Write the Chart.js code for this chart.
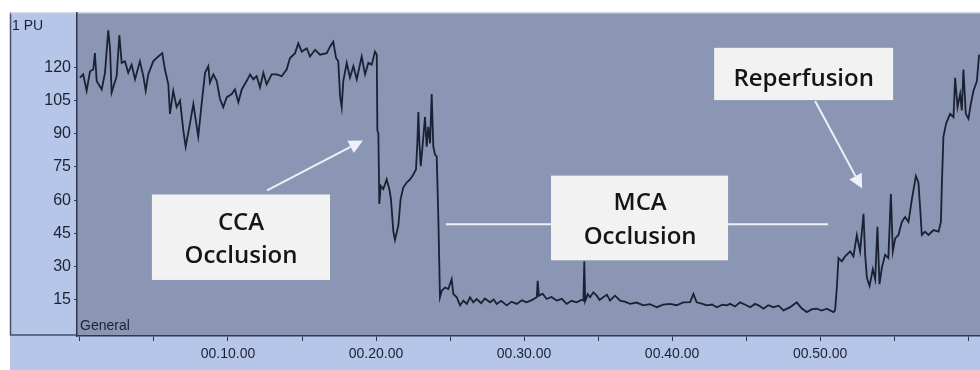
<!DOCTYPE html>
<html>
<head>
<meta charset="utf-8">
<script src="https://cdn.jsdelivr.net/npm/chart.js@4.4.1/dist/chart.umd.min.js"></script>
<style>
  html, body { margin: 0; padding: 0; background: #fff; }
  #wrap { width: 980px; height: 370px; }
</style>
</head>
<body>
<div id="wrap"><canvas id="chart" width="980" height="370"></canvas></div>
<script>
// Laser doppler flow trace: time in minutes, flow in PU
const times = [
  0, 0.22, 0.45, 0.68, 0.90, 1.01, 1.13, 1.47, 1.69, 1.91, 2.03, 2.14, 2.48, 2.66, 2.82, 3.04, 3.26, 3.49, 3.72, 4.05,
  4.28, 4.44, 4.61, 4.95, 5.29, 5.56, 5.74, 5.97, 6.08, 6.30, 6.53, 6.76, 6.98, 7.14, 7.43, 7.66, 7.89, 7.99, 8.22, 8.45,
  8.67, 8.78, 9.01, 9.24, 9.46, 9.68, 9.91, 10.25, 10.47, 10.70, 10.93, 11.26, 11.49, 11.71, 11.94, 12.16, 12.39, 12.61, 12.95, 13.28,
  13.63, 13.96, 14.19, 14.53, 14.75, 14.98, 15.32, 15.54, 15.88, 16.22, 16.67, 16.89, 17.11, 17.30, 17.45, 17.57, 17.68, 17.79, 18.02, 18.24,
  18.47, 18.70, 19.03, 19.26, 19.48, 19.71, 19.93, 20.05, 20.09, 20.16, 20.22, 20.32, 20.49, 20.72, 20.90, 21.01, 21.17, 21.28, 21.51, 21.66,
  21.84, 22.07, 22.30, 22.52, 22.70, 22.79, 22.86, 22.93, 23.02, 23.16, 23.31, 23.42, 23.53, 23.65, 23.76, 23.87, 23.99, 24.10, 24.21, 24.32,
  24.44, 24.66, 24.88, 25.11, 25.22, 25.45, 25.68, 25.90, 26.13, 26.35, 26.57, 26.80, 27.10, 27.35, 27.70, 27.95, 28.15, 28.45, 28.83, 29.15,
  29.51, 29.85, 30.18, 30.55, 30.86, 30.92, 31.00, 31.25, 31.53, 31.85, 32.21, 32.55, 32.88, 33.20, 33.56, 33.85, 34.01, 34.07, 34.13, 34.30,
  34.46, 34.68, 34.91, 35.10, 35.34, 35.60, 35.81, 36.00, 36.15, 36.49, 36.80, 37.16, 37.60, 38.06, 38.50, 38.97, 39.40, 39.86, 40.30, 40.76,
  41.22, 41.44, 41.66, 42.00, 42.34, 42.70, 43.02, 43.40, 43.70, 43.92, 44.25, 44.59, 44.95, 45.27, 45.61, 45.90, 46.17, 46.50, 46.84, 47.20,
  47.52, 47.95, 48.42, 48.75, 49.10, 49.45, 49.77, 50.10, 50.45, 50.90, 51.01, 51.13, 51.24, 51.47, 51.69, 52.03, 52.25, 52.48, 52.70, 52.93,
  53.04, 53.16, 53.34, 53.56, 53.72, 53.87, 54.01, 54.17, 54.39, 54.61, 54.78, 54.91, 55.07, 55.29, 55.52, 55.74, 55.97, 56.20, 56.47, 56.64,
  56.76, 56.87, 57.09, 57.32, 57.66, 58.00, 58.16, 58.22, 58.33, 58.51, 58.78, 59.01, 59.12, 59.28, 59.46, 59.57, 59.68, 59.84, 60.02, 60.18,
  60.36, 60.59, 60.74
];
const flow = [
  115.3, 116.8, 109.4, 118.2, 119, 126.4, 113.8, 110, 117.5, 136.7, 128.6, 108.6, 116, 134.5, 122, 122.7, 117.5, 121.2, 114.6, 122.7,
  116, 109.4, 116.8, 122.7, 124.9, 126.4, 119, 112.3, 99, 109.4, 102, 105, 91.6, 84.2, 94.6, 103.5, 93.1, 88.7, 103.5, 117.5,
  120.5, 113.1, 116.8, 113.8, 105.7, 102, 106.4, 107.9, 110, 104.2, 110, 113.8, 116.8, 114.6, 116, 110.9, 117.5, 112.3, 116.8, 116.8,
  116, 119, 124.2, 126.4, 130.8, 127.1, 128.6, 124.9, 127.9, 125.7, 126.4, 129.3, 131.6, 124.2, 122.7, 107.1, 102, 113.8, 122, 115.3,
  120.5, 114.6, 124.9, 116.8, 122, 121.2, 127.1, 125.7, 91.6, 90.1, 58.3, 66.5, 65, 69.4, 65, 60.5, 45.8, 42.1, 48.7, 60.5,
  65.7, 68, 69.4, 71.6, 73.9, 85.7, 99.8, 85.7, 75.4, 85.7, 97.6, 84.2, 93.1, 85.7, 107.9, 84.2, 80.5, 79.8, 51.7, 16.2,
  19.1, 20.6, 19.9, 24.3, 17.7, 16.2, 12.5, 14.7, 13.2, 16.2, 13.9, 15.4, 13.5, 15.6, 13.9, 15.2, 13.2, 14.6, 12.5, 14.2,
  13.2, 14.8, 13.9, 15.0, 16.2, 23.6, 16.9, 17.8, 15.4, 16.3, 14.7, 15.5, 13.2, 14.6, 13.9, 15.0, 14.7, 32.4, 14.5, 17.6,
  16.2, 18.4, 16.9, 15.0, 16.2, 17.3, 14.7, 16.0, 16.9, 14.7, 14.2, 13.2, 13.8, 12.5, 13.1, 11.7, 12.9, 13.2, 12.6, 13.9,
  14.0, 17.7, 13.9, 13.3, 12.5, 12.9, 11.7, 12.8, 12.5, 13.2, 12.0, 13.9, 12.8, 11.7, 13.2, 12.3, 11.0, 12.6, 11.7, 12.4,
  10.3, 11.6, 13.9, 11.2, 9.5, 10.8, 11.0, 10.2, 11.0, 9.5, 10.3, 20.6, 33.9, 32.4, 34.7, 36.9, 34.7, 44.3, 36.9, 53.9,
  35.4, 25, 21.3, 28.8, 24.3, 48, 22.1, 29.5, 35.4, 33.9, 62.8, 36.9, 42.8, 44.3, 50.2, 52.4, 50.2, 60.5, 70.9, 68,
  56.1, 44.3, 45.8, 44.3, 46.5, 45.8, 50.2, 66.5, 88.7, 94.6, 99, 97.5, 115.3, 102, 107.9, 100.5, 119, 99, 96.8, 103.5,
  109.4, 113.8, 125.7
];

const xTicks = [0, 5, 10, 15, 20, 25, 30, 35, 40, 45, 50, 55, 60];
const xTickLabels = ['', '', '00.10.00', '', '00.20.00', '', '00.30.00', '', '00.40.00', '', '00.50.00', '', ''];
const yTicks = [15, 30, 45, 60, 75, 90, 105, 120];

// annotation callouts, in data units (minutes, PU)
const boxes = [
  { lines: ['CCA', 'Occlusion'], x1: 4.86, x2: 16.89, yTop: 62.6, yBottom: 24.0, cx: 10.88, baselines: [46.6, 31.6] },
  { lines: ['MCA', 'Occlusion'], x1: 31.82, x2: 43.78, yTop: 71.1, yBottom: 32.9, cx: 37.84, baselines: [55.5, 40.4] },
  { lines: ['Reperfusion'], x1: 42.84, x2: 54.93, yTop: 128.8, yBottom: 105.2, cx: 48.89, baselines: [111.5] }
];
const arrows = [
  { from: [12.64, 64.4], to: [19.12, 87.0] },
  { from: [49.66, 104.8], to: [52.84, 65.3] }
];
const guides = [
  { from: [24.73, 49.1], to: [31.82, 49.1] },
  { from: [43.78, 49.1], to: [50.54, 49.1] }
];

const sans = '"Liberation Sans", Arial, sans-serif';

const panel = {
  id: 'panel',
  beforeDraw(chart) {
    const { ctx, chartArea: a, width, height } = chart;
    ctx.save();
    ctx.fillStyle = '#ffffff';
    ctx.fillRect(0, 0, width, height);
    ctx.fillStyle = '#b5c6e8';
    ctx.fillRect(10, a.top, a.left - 10, height - a.top);
    ctx.fillRect(10, a.bottom, width - 10, height - a.bottom);
    ctx.fillStyle = '#8a96b3';
    ctx.fillRect(a.left, a.top, a.right - a.left, a.bottom - a.top);
    ctx.strokeStyle = '#4a5068';
    ctx.lineWidth = 1.5;
    ctx.beginPath();
    ctx.moveTo(10.5, a.top);
    ctx.lineTo(10.5, a.bottom - 1);
    ctx.lineTo(a.left, a.bottom - 1);
    ctx.stroke();
    ctx.strokeStyle = '#c9cfdc';
    ctx.lineWidth = 1;
    ctx.beginPath();
    ctx.moveTo(10, a.top + 0.5);
    ctx.lineTo(width, a.top + 0.5);
    ctx.stroke();
    ctx.fillStyle = '#1d2233';
    ctx.font = '14px ' + sans;
    ctx.textBaseline = 'alphabetic';
    ctx.fillText('1 PU', 12, a.top + 17);
    ctx.fillText('General', a.left + 3, a.bottom - 6);
    ctx.restore();
  },
  afterDatasetsDraw(chart) {
    const { ctx, scales: { x, y } } = chart;
    const px = p => [x.getPixelForValue(p[0]), y.getPixelForValue(p[1])];
    ctx.save();
    ctx.strokeStyle = '#eef1f7';
    ctx.fillStyle = '#eef1f7';
    ctx.lineWidth = 2;
    guides.forEach(g => {
      const [x0, y0] = px(g.from), [x1, y1] = px(g.to);
      ctx.beginPath(); ctx.moveTo(x0, y0); ctx.lineTo(x1, y1); ctx.stroke();
    });
    arrows.forEach(ar => {
      const [x0, y0] = px(ar.from), [x1, y1] = px(ar.to);
      const ang = Math.atan2(y1 - y0, x1 - x0);
      const len = 14, half = 7;
      const bx = x1 - len * Math.cos(ang), by = y1 - len * Math.sin(ang);
      ctx.beginPath(); ctx.moveTo(x0, y0); ctx.lineTo(bx, by); ctx.stroke();
      ctx.beginPath();
      ctx.moveTo(x1, y1);
      ctx.lineTo(bx + half * Math.sin(ang), by - half * Math.cos(ang));
      ctx.lineTo(bx - half * Math.sin(ang), by + half * Math.cos(ang));
      ctx.closePath(); ctx.fill();
    });
    boxes.forEach(b => {
      const l = x.getPixelForValue(b.x1), r = x.getPixelForValue(b.x2);
      const t = y.getPixelForValue(b.yTop), bt = y.getPixelForValue(b.yBottom);
      ctx.fillStyle = '#f2f2f3';
      ctx.fillRect(l, t, r - l, bt - t);
      ctx.fillStyle = '#151515';
      ctx.font = '600 24px "Open Sans", sans-serif';
      ctx.textAlign = 'center';
      ctx.textBaseline = 'alphabetic';
      b.lines.forEach((s, i) => ctx.fillText(s, x.getPixelForValue(b.cx), y.getPixelForValue(b.baselines[i])));
    });
    ctx.restore();
  }
};

new Chart(document.getElementById('chart'), {
  type: 'line',
  data: {
    datasets: [{
      data: times.map((t, i) => ({ x: t, y: flow[i] })),
      borderColor: '#1b2132',
      borderWidth: 1.8,
      pointRadius: 0,
      tension: 0,
      fill: false
    }]
  },
  options: {
    responsive: false,
    animation: false,
    events: [],
    layout: { padding: { left: 10, top: 7, right: 0, bottom: 0 } },
    plugins: { legend: { display: false }, tooltip: { enabled: false } },
    scales: {
      x: {
        type: 'linear',
        min: -0.2,
        max: 60.8,
        afterFit: s => { s.height = 34; },
        afterBuildTicks: s => { s.ticks = xTicks.map(v => ({ value: v })); },
        grid: { drawOnChartArea: false, drawTicks: true, tickLength: 5, color: '#2e3652', lineWidth: 1 },
        border: { display: true, color: '#2e3652', width: 1.5 },
        ticks: {
          autoSkip: false,
          maxRotation: 0,
          padding: 5,
          color: '#1d2233',
          font: { family: sans, size: 14 },
          callback: v => xTickLabels[xTicks.indexOf(v)] || ''
        }
      },
      y: {
        min: -1.3,
        max: 144.7,
        afterFit: s => { s.width = 67; },
        afterBuildTicks: s => { s.ticks = yTicks.map(v => ({ value: v })); },
        grid: { drawOnChartArea: false, drawTicks: true, tickLength: 3, color: '#2e3652', lineWidth: 1 },
        border: { display: true, color: '#2e3652', width: 1.5 },
        ticks: {
          padding: 3,
          color: '#1d2233',
          font: { family: sans, size: 16 }
        }
      }
    }
  },
  plugins: [panel]
});
</script>
</body>
</html>
